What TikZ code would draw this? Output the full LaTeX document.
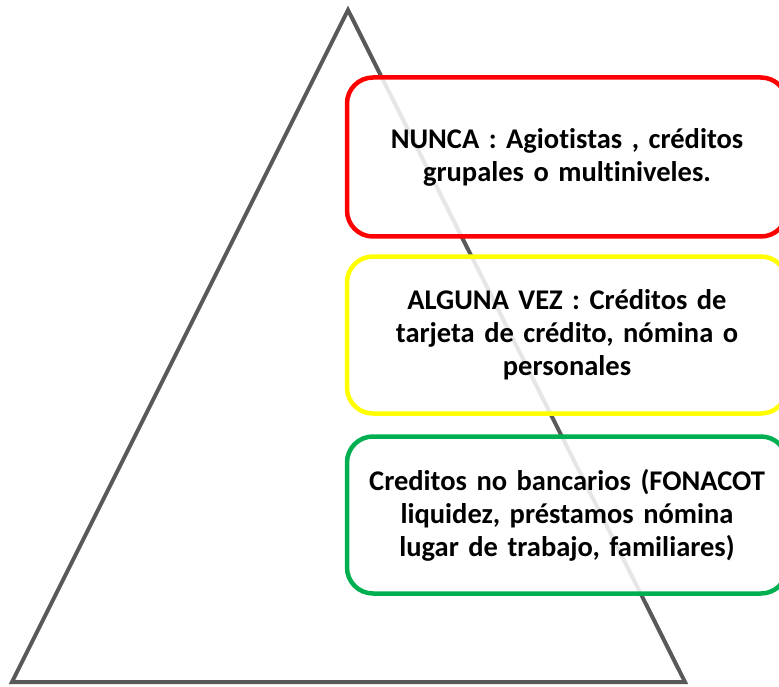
\documentclass[tikz,border=0pt]{standalone}
\usepackage{fontspec}
\setmainfont{Carlito}[Ligatures=NoCommon,WordSpace=0.85]
\definecolor{trigray}{HTML}{595959}
\definecolor{redb}{HTML}{FF0000}
\definecolor{yelb}{HTML}{FFFF00}
\definecolor{greenb}{HTML}{00B050}
\tikzset{
  tbox/.style={draw, line width=4.5pt, rounded corners=26pt, fill=white, fill opacity=0.85, text opacity=1,
    minimum width=440pt, minimum height=157pt, align=center, text width=430pt,
    font=\bfseries\fontsize{28.5}{33}\selectfont, inner sep=0pt}
}
\begin{document}
\begin{tikzpicture}[x=1pt,y=-1pt]
\useasboundingbox (0,0) rectangle (779,687);
\clip (0,0) rectangle (779,687);
\coordinate (apex) at (348,10);
\coordinate (bl) at (12,682);
\coordinate (br) at (685,682);
\draw[trigray, line width=4pt, line join=miter] (apex) -- (br) -- (bl) -- cycle;
\node[tbox, draw=redb, minimum height=159pt] (nunca) at (567,157) {NUNCA : Agiotistas , créditos\\grupales o multiniveles.};
\node[tbox, draw=yelb] (alguna) at (567,335) {ALGUNA VEZ : Créditos de\\tarjeta de crédito, nómina o\\personales};
\node[tbox, draw=greenb] (credit) at (567,515) {Creditos no bancarios (FONACOT\\liquidez, préstamos nómina\\lugar de trabajo, familiares)};
\end{tikzpicture}
\end{document}
